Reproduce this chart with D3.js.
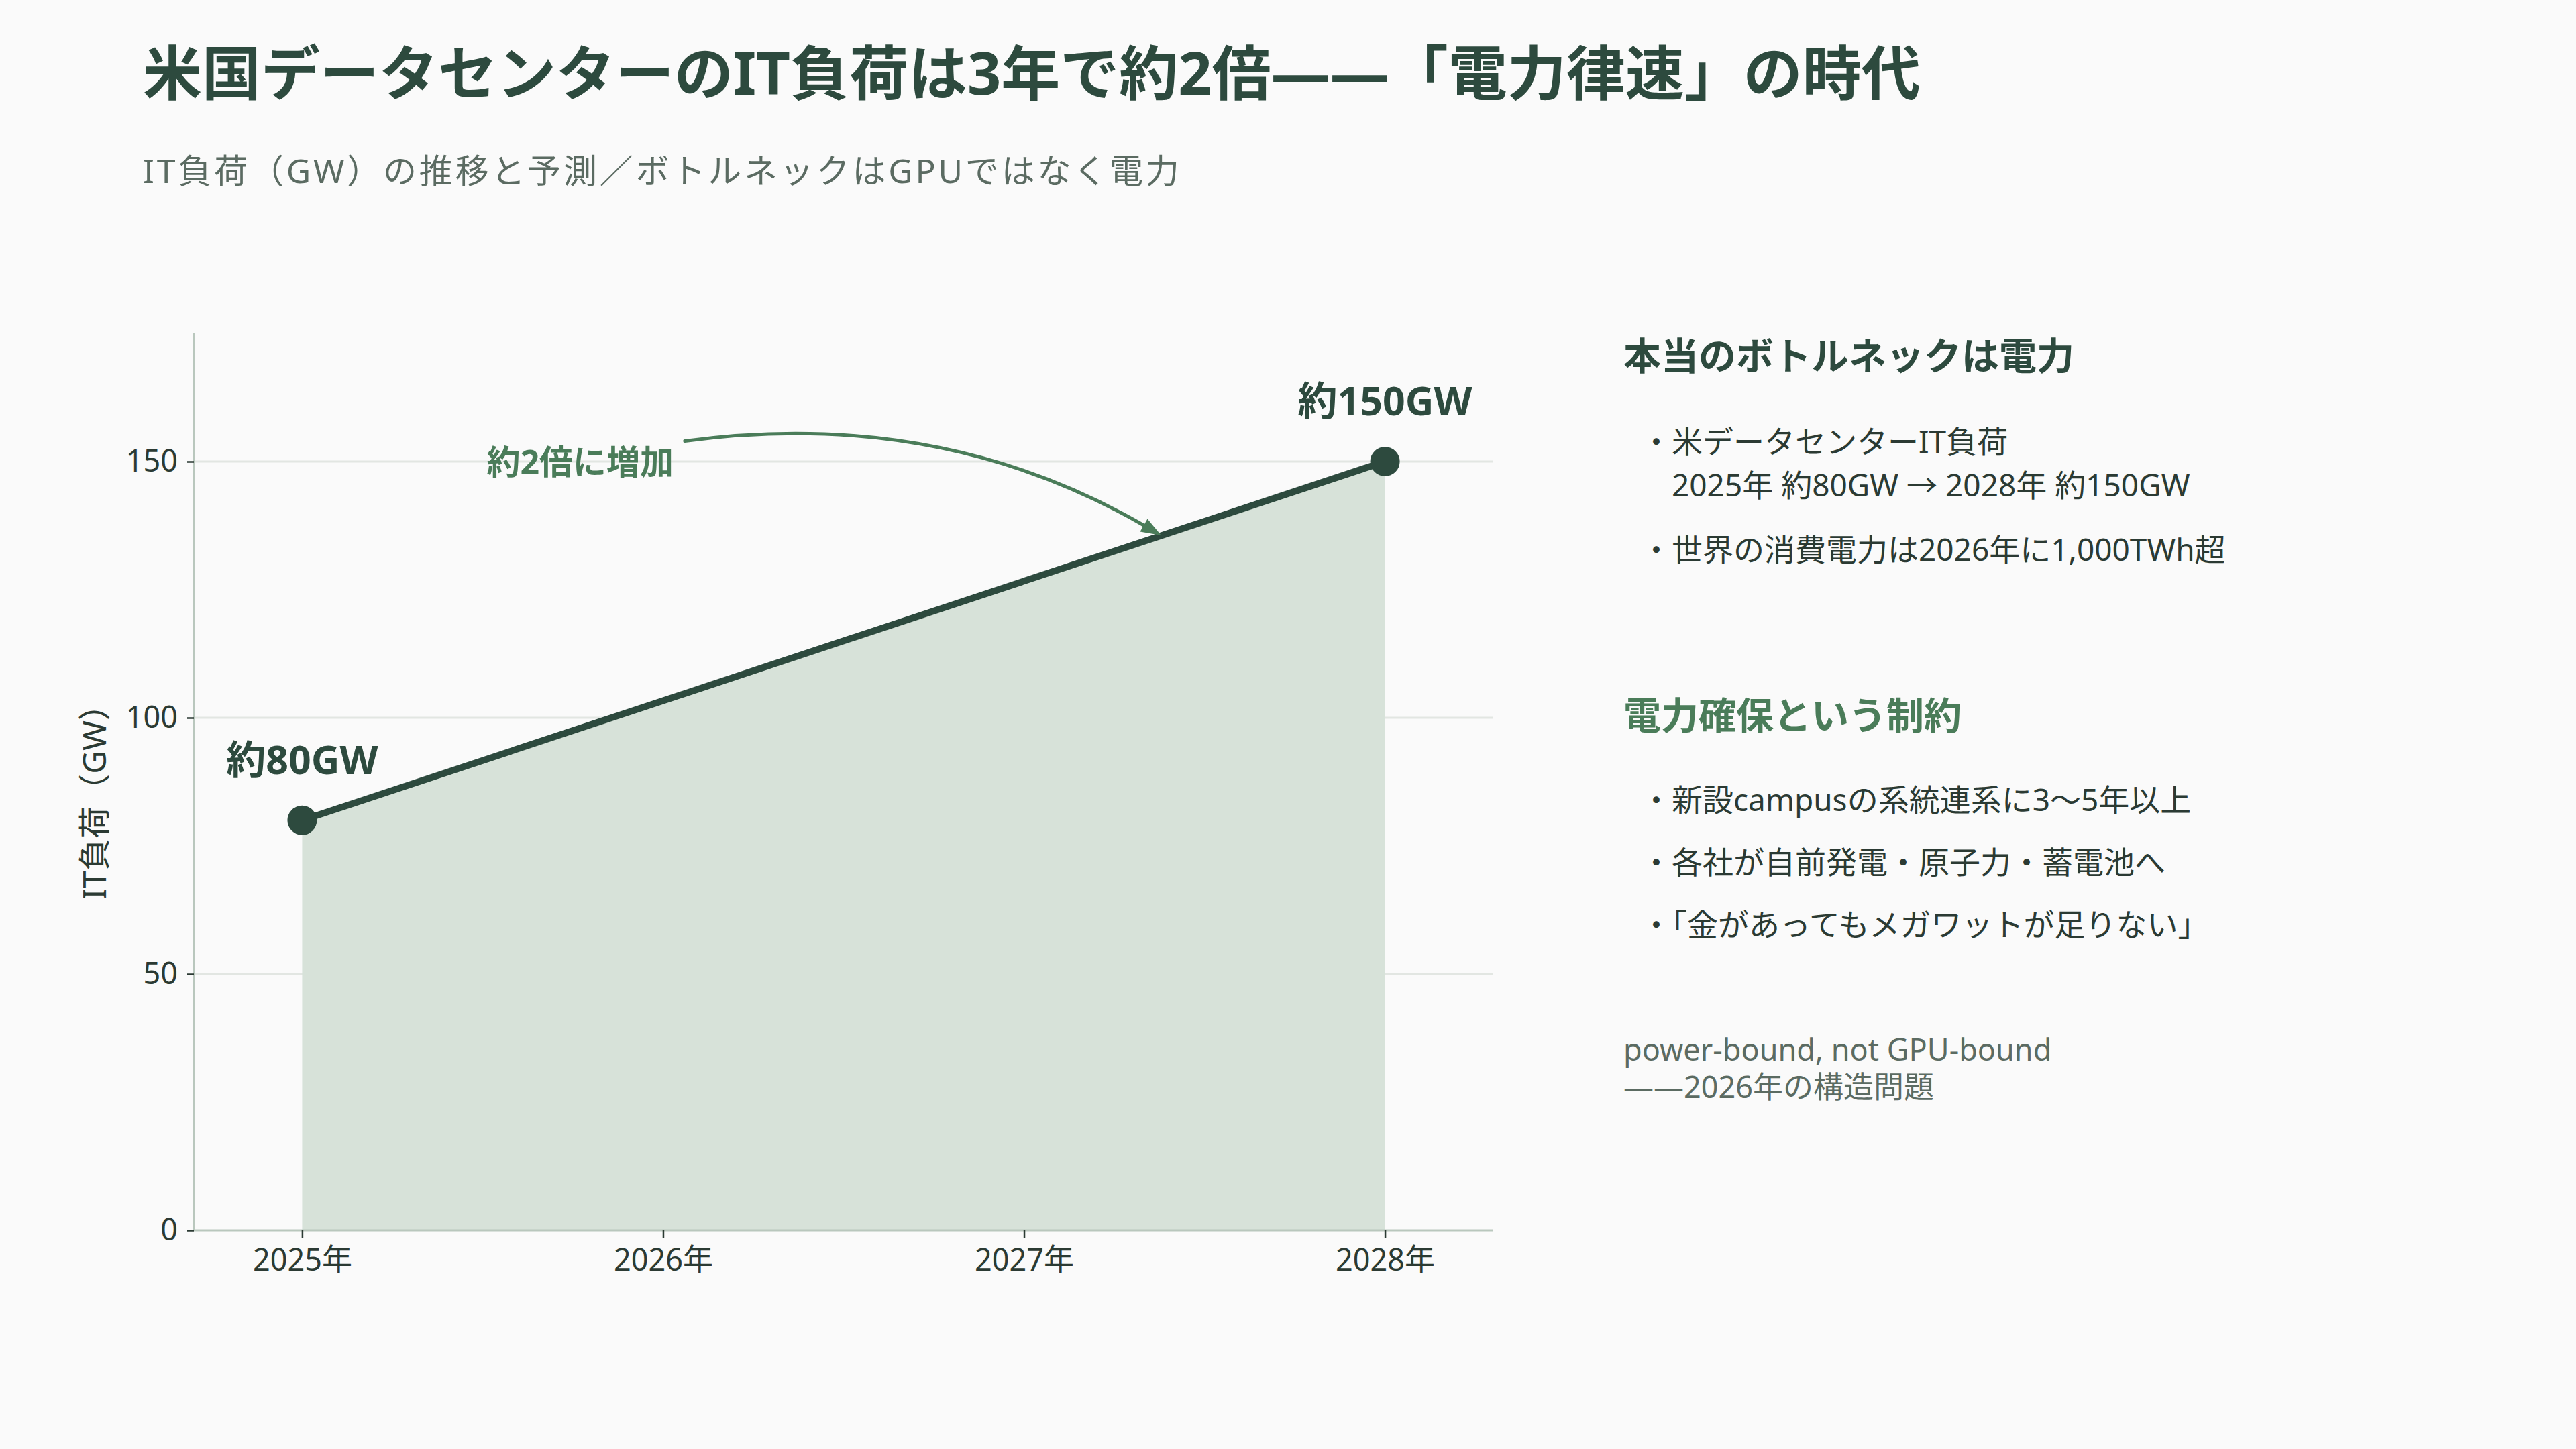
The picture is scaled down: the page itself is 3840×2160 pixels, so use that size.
<!DOCTYPE html>
<html lang="ja">
<head>
<meta charset="utf-8">
<script src="https://cdn.jsdelivr.net/npm/d3@7"></script>
<style>
  html, body { margin: 0; padding: 0; background: #fafafa; }
  svg { display: block; }
  text { font-family: "Noto Sans", "Noto Sans CJK JP", sans-serif; }
</style>
</head>
<body>
<svg id="chart" width="3840" height="2160"></svg>
<script>
// ---------- data ----------
const titleText = "米国データセンターのIT負荷は3年で約2倍——「電力律速」の時代";
const subtitleText = "IT負荷（GW）の推移と予測／ボトルネックはGPUではなく電力";
const yAxisLabel = "IT負荷（GW）";

const tickYears = [2025, 2026, 2027, 2028];
const xTickLabels = ["2025年", "2026年", "2027年", "2028年"];
const yTicks = [0, 50, 100, 150];

const seriesYears = [2025, 2028];
const itLoadGW = [80, 150];
const pointLabels = ["約80GW", "約150GW"];

const annotText = "約2倍に増加";
const annotTextAt = [2025.77, 150];
const arrowFrom = [2026.06, 154];
const arrowTo = [2027.38, 135.6];

const panel1Heading = "本当のボトルネックは電力";
const panel1Items = [
  ["米データセンターIT負荷", "2025年 約80GW → 2028年 約150GW"],
  ["世界の消費電力は2026年に1,000TWh超"]
];
const panel2Heading = "電力確保という制約";
const panel2Items = [
  ["新設campusの系統連系に3〜5年以上"],
  ["各社が自前発電・原子力・蓄電池へ"],
  ["「金があってもメガワットが足りない」"]
];
const footerLines = ["power-bound, not GPU-bound", "——2026年の構造問題"];

// ---------- style ----------
const C = {
  bg: "#fafafa",
  dark: "#2d4a3e",
  green: "#4a7c59",
  gray: "#5b6b62",
  text: "#2b3a33",
  fill: "#d7e2d9",
  grid: "#e2e6e2",
  spine: "#b9c7bd"
};
const FONT = '"Noto Sans", "Noto Sans CJK JP", sans-serif';

const svg = d3.select("#chart");
svg.append("rect").attr("width", 3840).attr("height", 2160).attr("fill", C.bg);

// titles
svg.append("text").attr("x", 213).attr("y", 107)
  .attr("dominant-baseline", "central")
  .attr("font-size", 88).attr("font-weight", 700).attr("fill", C.dark)
  .text(titleText);
svg.append("text").attr("x", 213).attr("y", 254)
  .attr("dominant-baseline", "central")
  .attr("font-size", 50).attr("letter-spacing", 3.8).attr("fill", C.gray)
  .text(subtitleText);

// ---------- chart ----------
const plot = { left: 289, right: 2226, top: 497, bottom: 1834 };
const x = d3.scaleLinear().domain([2024.7, 2028.3]).range([plot.left, plot.right]);
const y = d3.scaleLinear().domain([0, 175]).range([plot.bottom, plot.top]);

const g = svg.append("g");

// grid
g.append("g").selectAll("line").data(yTicks.filter(d => d > 0)).join("line")
  .attr("x1", plot.left).attr("x2", plot.right)
  .attr("y1", d => y(d)).attr("y2", d => y(d))
  .attr("stroke", C.grid).attr("stroke-width", 3);

const pts = seriesYears.map((yr, i) => ({ yr, v: itLoadGW[i], label: pointLabels[i] }));

// area
g.append("path").datum(pts)
  .attr("d", d3.area().x(d => x(d.yr)).y0(y(0)).y1(d => y(d.v)))
  .attr("fill", C.fill);

// axes
const yAxis = g.append("g").attr("transform", `translate(${plot.left},0)`)
  .call(d3.axisLeft(y).tickValues(yTicks).tickSize(10).tickPadding(14).tickFormat(d3.format("d")));
const xAxis = g.append("g").attr("transform", `translate(0,${plot.bottom})`)
  .call(d3.axisBottom(x).tickValues(tickYears).tickSize(12).tickPadding(16)
    .tickFormat((d, i) => xTickLabels[i]));
[yAxis, xAxis].forEach(ax => {
  ax.select(".domain").attr("stroke", C.spine).attr("stroke-width", 3);
  ax.selectAll(".tick line").attr("stroke", C.text).attr("stroke-width", 2.5);
  ax.selectAll(".tick text").attr("fill", C.text).attr("font-size", 45)
    .attr("font-family", FONT);
});
yAxis.select(".domain").attr("d", `M0,${plot.top}V${plot.bottom}`);
xAxis.select(".domain").attr("d", `M${plot.left},0H${plot.right}`);

// y-axis label
g.append("text")
  .attr("transform", `translate(139,${(plot.top + plot.bottom) / 2 + 18}) rotate(-90)`)
  .attr("text-anchor", "middle").attr("dominant-baseline", "central")
  .attr("font-size", 48).attr("fill", C.text)
  .text(yAxisLabel);

// line
g.append("path").datum(pts)
  .attr("d", d3.line().x(d => x(d.yr)).y(d => y(d.v)))
  .attr("fill", "none").attr("stroke", C.dark).attr("stroke-width", 10)
  .attr("stroke-linecap", "round");

// markers
g.selectAll("circle.pt").data(pts).join("circle")
  .attr("class", "pt")
  .attr("cx", d => x(d.yr)).attr("cy", d => y(d.v)).attr("r", 22)
  .attr("fill", C.dark);

// point labels
g.selectAll("text.pl").data(pts).join("text")
  .attr("class", "pl")
  .attr("x", d => x(d.yr)).attr("y", d => y(d.v) - 92)
  .attr("text-anchor", "middle").attr("dominant-baseline", "central")
  .attr("font-size", 59).attr("font-weight", 700).attr("fill", C.dark)
  .text(d => d.label);

// annotation
g.append("text")
  .attr("x", x(annotTextAt[0])).attr("y", y(annotTextAt[1]))
  .attr("text-anchor", "middle").attr("dominant-baseline", "central")
  .attr("font-size", 50).attr("font-weight", 700).attr("fill", C.green)
  .text(annotText);

const p0 = [x(arrowFrom[0]), y(arrowFrom[1])];
const p2 = [x(arrowTo[0]), y(arrowTo[1])];
const rad = 0.17;
const dx = p2[0] - p0[0], dy = p2[1] - p0[1];
const cp = [(p0[0] + p2[0]) / 2 + rad * dy, (p0[1] + p2[1]) / 2 - rad * dx];
const headLen = 30, headW = 11;
const ang = Math.atan2(p2[1] - cp[1], p2[0] - cp[0]);
const base = [p2[0] - headLen * Math.cos(ang), p2[1] - headLen * Math.sin(ang)];
const arrowPath = d3.path();
arrowPath.moveTo(p0[0], p0[1]);
arrowPath.quadraticCurveTo(cp[0], cp[1], base[0], base[1]);
g.append("path").attr("d", arrowPath.toString())
  .attr("fill", "none").attr("stroke", C.green).attr("stroke-width", 5)
  .attr("stroke-linecap", "round");
const nx = -Math.sin(ang), ny = Math.cos(ang);
g.append("path")
  .attr("d", `M${p2[0]},${p2[1]}L${base[0] + nx * headW},${base[1] + ny * headW}L${base[0] - nx * headW},${base[1] - ny * headW}Z`)
  .attr("fill", C.green);

// ---------- right panel ----------
const px = 2420;
const bodySize = 46;
const bodyIndent = 2492;
const p = svg.append("g");

function heading(txt, yy, color) {
  p.append("text").attr("x", px).attr("y", yy).attr("dominant-baseline", "central")
    .attr("font-size", 56).attr("font-weight", 700).attr("fill", color).text(txt);
}
function bullets(items, startY, lineGap, itemGap) {
  let yy = startY;
  items.forEach(lines => {
    lines.forEach((ln, j) => {
      p.append("text")
        .attr("x", j === 0 ? bodyIndent - bodySize : bodyIndent)
        .attr("y", yy).attr("dominant-baseline", "central")
        .attr("font-size", bodySize).attr("fill", C.text)
        .text(j === 0 ? "・" + ln : ln);
      if (j < lines.length - 1) yy += lineGap;
    });
    yy += itemGap;
  });
}
heading(panel1Heading, 529, C.dark);
bullets(panel1Items, 657, 65, 96);
heading(panel2Heading, 1065, C.green);
bullets(panel2Items, 1191, 0, 93);

p.selectAll("text.ft").data(footerLines).join("text")
  .attr("class", "ft")
  .attr("x", px).attr("y", (d, i) => 1563 + i * 56)
  .attr("dominant-baseline", "central")
  .attr("font-size", 45).attr("fill", C.gray)
  .text(d => d);
</script>
</body>
</html>
